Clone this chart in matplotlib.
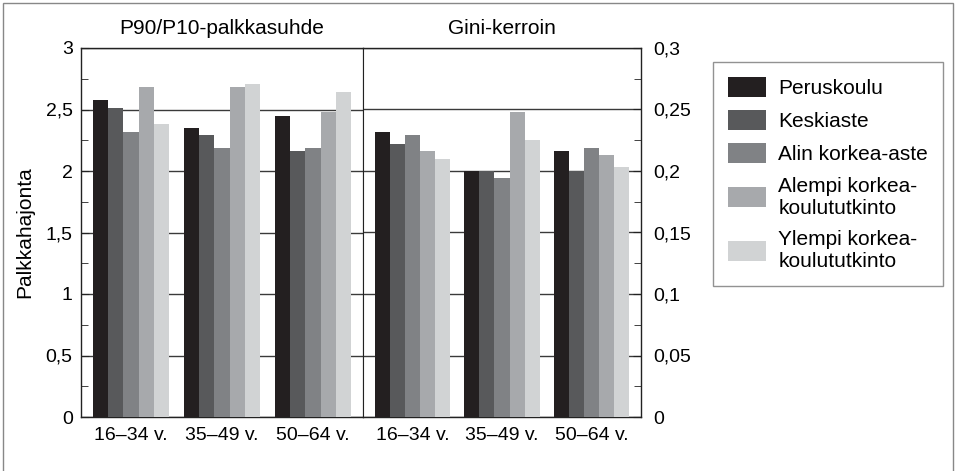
import matplotlib
matplotlib.use("Agg")
import matplotlib.pyplot as plt
from matplotlib.patches import Rectangle
from matplotlib.ticker import MultipleLocator, FuncFormatter
import numpy as np

plt.rcParams['font.family'] = ['Liberation Sans', 'DejaVu Sans']

# tiedot
ikaryhmat = ["16–34 v.", "35–49 v.", "50–64 v."]
koulutus = ["Peruskoulu", "Keskiaste", "Alin korkea-aste",
            "Alempi korkea-\nkoulututkinto", "Ylempi korkea-\nkoulututkinto"]
varit = ["#231f20", "#58595b", "#808285", "#a7a9ac", "#d1d3d4"]

# P90/P10 (rivit = koulutus, sarakkeet = ikäryhmä)
p90p10 = [
    [2.58, 2.35, 2.45],
    [2.51, 2.29, 2.16],
    [2.32, 2.19, 2.19],
    [2.68, 2.68, 2.48],
    [2.38, 2.71, 2.64],
]
# Gini-kerroin
gini = [
    [0.232, 0.200, 0.216],
    [0.222, 0.200, 0.200],
    [0.229, 0.194, 0.219],
    [0.216, 0.248, 0.213],
    [0.210, 0.225, 0.203],
]

W, H = 955, 471
fig = plt.figure(figsize=(W / 100, H / 100), dpi=100)

x0, xm, x1 = 81, 363, 641
yb, yt = 417, 48
ax1 = fig.add_axes([x0 / W, 1 - yb / H, (xm - x0) / W, (yb - yt) / H])
ax2 = fig.add_axes([xm / W, 1 - yb / H, (x1 - xm) / W, (yb - yt) / H])

x = np.arange(len(ikaryhmat))
leveys = 0.168

def piirra(ax, data, ymax, askel):
    for i, (arvot, vari) in enumerate(zip(data, varit)):
        ax.bar(x + (i - 2) * leveys, arvot, leveys, color=vari,
               label=koulutus[i], zorder=3)
    ax.set_ylim(0, ymax)
    ax.set_xlim(-0.55, 2.55)
    ax.yaxis.set_major_locator(MultipleLocator(askel))
    ax.yaxis.set_minor_locator(MultipleLocator(askel / 2))
    ax.yaxis.grid(True, which='major', color='#3a3a3a', lw=1, zorder=1)
    ax.set_xticks(x)
    ax.set_xticklabels(ikaryhmat, fontsize=14)
    ax.tick_params(axis='x', length=0, pad=7)
    ax.tick_params(axis='y', which='major', direction='in', length=6,
                   labelsize=14, color='#222')
    ax.tick_params(axis='y', which='minor', direction='in', length=5,
                   color='#222')
    ax.yaxis.set_major_formatter(
        FuncFormatter(lambda v, p: f"{v:g}".replace(".", ",")))
    for s in ax.spines.values():
        s.set_color('#222')
        s.set_linewidth(1)

piirra(ax1, p90p10, 3, 0.5)
piirra(ax2, gini, 0.3, 0.05)
ax1.tick_params(axis='y', pad=6)
ax2.yaxis.tick_right()
ax2.tick_params(axis='y', which='both', right=True, left=False, pad=8.5)
ax2.spines['left'].set_linewidth(0.8)
ax1.spines['right'].set_linewidth(0.8)

ax1.set_title("P90/P10-palkkasuhde", fontsize=15, pad=10)
ax2.set_title("Gini-kerroin", fontsize=15, pad=10)
ax1.set_ylabel("Palkkahajonta", fontsize=15, labelpad=8)

kahvat, nimet = ax1.get_legend_handles_labels()
leg = fig.legend(kahvat, nimet, loc='upper left',
                 bbox_to_anchor=(713 / W, 1 - 62 / H),
                 fontsize=15, frameon=True, fancybox=False,
                 handlelength=1.82, handleheight=1.1, handletextpad=0.6,
                 labelspacing=0.58, borderpad=0.72, borderaxespad=0)
leg.get_frame().set_edgecolor('#777')
leg.get_frame().set_linewidth(1)

fig.patches.append(Rectangle((3 / W, -0.02), 950 / W, 1 - 3 / H + 0.02,
                             transform=fig.transFigure, fill=False,
                             edgecolor='#888', lw=1))

fig.savefig("out.png", dpi=100)
